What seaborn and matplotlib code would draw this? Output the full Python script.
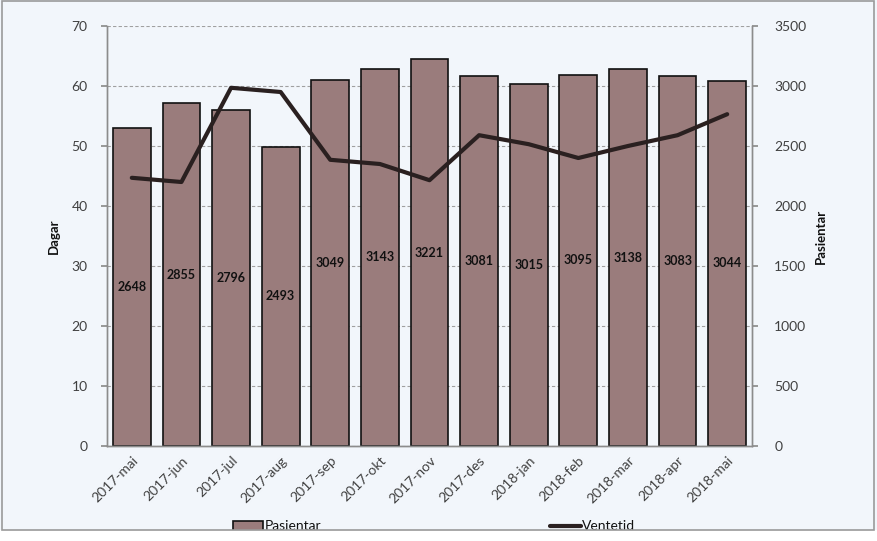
import numpy as np
import pandas as pd
import matplotlib
matplotlib.use("Agg")
import matplotlib.pyplot as plt
import seaborn as sns
from matplotlib.patches import Rectangle, Patch
from matplotlib.lines import Line2D

months = ["2017-mai", "2017-jun", "2017-jul", "2017-aug", "2017-sep", "2017-okt",
          "2017-nov", "2017-des", "2018-jan", "2018-feb", "2018-mar", "2018-apr", "2018-mai"]
pasientar = [2648, 2855, 2796, 2493, 3049, 3143, 3221, 3081, 3015, 3095, 3138, 3083, 3044]
ventetid = [44.7, 44.0, 59.7, 59.0, 47.7, 47.0, 44.3, 51.8, 50.3, 48.0, 50.0, 51.8, 55.3]

df = pd.DataFrame({"month": months, "Pasientar": pasientar, "Ventetid": ventetid})

sns.set_theme(style="white")
plt.rcParams["font.family"] = ["Lato", "DejaVu Sans"]

BG = "#F2F6FB"
BAR = "#9A7C7C"
TXT = "#404040"
SPINE = "#8C8C8C"

fig = plt.figure(figsize=(8.77, 5.41), dpi=100, facecolor=BG)
ax = fig.add_axes([107/877, 95/541, 645/877, 420/541])
ax2 = ax.twinx()

# bars on right axis
sns.barplot(data=df, x="month", y="Pasientar", ax=ax2, color=BAR, width=0.76,
            edgecolor="#111111", linewidth=1.2, saturation=1)
ax2.set_ylim(0, 3500)
ax2.set_yticks(np.arange(0, 3501, 500))
ax2.grid(axis="y", color="#A0A0A0", linestyle=(0, (3, 2)), linewidth=0.8)
ax2.set_axisbelow(True)
for i, v in enumerate(pasientar):
    ax2.text(i, v / 2, str(v), ha="center", va="center", fontsize=9,
             fontweight="bold", color="#111111")

# line on left axis
sns.pointplot(data=df, x="month", y="Ventetid", ax=ax, color="#2A2020",
              markers="", linestyles="-", linewidth=3)
ax.set_ylim(0, 70)
ax.set_yticks(np.arange(0, 71, 10))
ax.set_zorder(ax2.get_zorder() + 1)
ax.patch.set_visible(False)
ax2.set_facecolor(BG)
ax.set_xlim(-0.5, len(months) - 0.5)

ax.set_ylabel("Dagar", fontsize=9.5, fontweight="bold", color="#111111", labelpad=8)
ax2.set_ylabel("Pasientar", fontsize=9.5, fontweight="bold", color="#111111", labelpad=6)
ax.set_xlabel("")
ax2.set_xlabel("")

ax.set_xticks(range(len(months)))
ax.set_xticklabels(months, rotation=45, ha="right", rotation_mode="anchor",
                   fontsize=10, color=TXT)
ax.tick_params(axis="x", length=0, pad=6)
# boundary ticks
ax2.set_xticks(np.arange(-0.5, len(months), 1.0), minor=True)
ax2.tick_params(axis="x", which="minor", length=4, color=SPINE, bottom=True)
ax.tick_params(axis="y", length=4, color=SPINE, labelsize=10, labelcolor=TXT, left=True, pad=10)
ax2.tick_params(axis="y", length=4, color=SPINE, labelsize=10, labelcolor=TXT, right=True, pad=12)

for a in (ax, ax2):
    for s in ("top",):
        a.spines[s].set_visible(False)
    for s in ("left", "right", "bottom"):
        a.spines[s].set_color(SPINE)
        a.spines[s].set_linewidth(1)

handles = [Patch(facecolor=BAR, edgecolor="#111111", linewidth=1.2),
           Line2D([0], [0], color="#2A2020", linewidth=3)]
fig.legend(handles, ["Pasientar", "Ventetid"], loc="lower left",
           bbox_to_anchor=(220/877, -4/541), ncol=2, frameon=False, fontsize=10,
           columnspacing=16.5, handlelength=2.2, handletextpad=0.1,
           labelcolor="#111111")

# outer frame and white strip at the bottom
fig.add_artist(Rectangle((0, 0), 1, 11/541, transform=fig.transFigure,
                         facecolor="white", edgecolor="none", zorder=50))
fig.add_artist(Rectangle((2/877, 11/541), 872/877, 529/541, transform=fig.transFigure,
                         facecolor="none", edgecolor="#9A9A9A", linewidth=1.2, zorder=51))

fig.savefig("out.png", dpi=100, facecolor=BG)
